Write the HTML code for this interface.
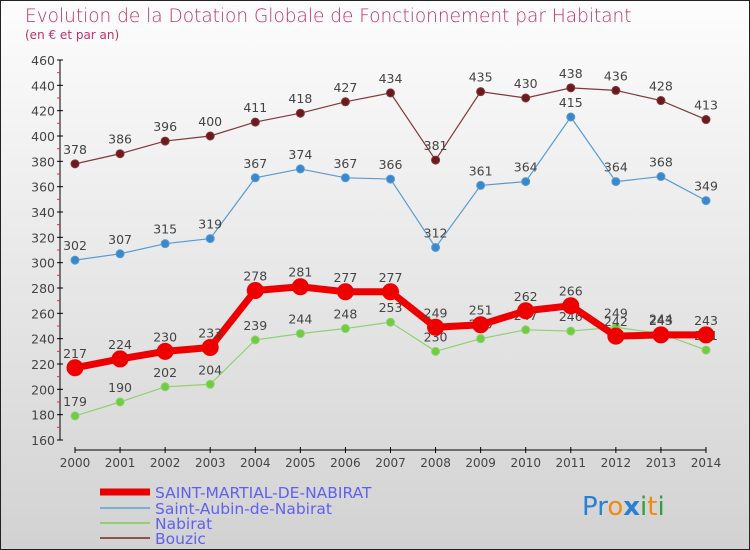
<!DOCTYPE html>
<html><head><meta charset="utf-8"><style>
body{margin:0;}
#c{width:750px;height:550px;position:relative;overflow:hidden;font-family:"DejaVu Sans","Liberation Sans",sans-serif;}
</style></head><body>
<div id="c">
<svg id="s" width="750" height="550" xmlns="http://www.w3.org/2000/svg">
<defs><linearGradient id="bg" x1="0" y1="0" x2="0" y2="1"><stop offset="0" stop-color="#fdfdfd"/><stop offset="1" stop-color="#d2d2d2"/></linearGradient></defs>
<rect x="0.5" y="0.5" width="749" height="549" fill="url(#bg)" stroke="#222"/>
<text x="25" y="22" font-size="18.5" fill="#c0306a" font-weight="200">Evolution de la Dotation Globale de Fonctionnement par Habitant</text>
<text x="25" y="39" font-size="12" fill="#c0306a">(en € et par an)</text>
<g id="axes"></g><g id="series"></g>
<g>
<line x1="100" y1="492" x2="150" y2="492" stroke="#e80000" stroke-width="7"/>
<text x="155" y="498" font-size="15.5" fill="#6060ee">SAINT-MARTIAL-DE-NABIRAT</text>
<line x1="100" y1="508" x2="150" y2="508" stroke="#7ab0d0" stroke-width="2"/>
<text x="155" y="514" font-size="15.5" fill="#6060ee">Saint-Aubin-de-Nabirat</text>
<line x1="100" y1="523" x2="150" y2="523" stroke="#90d070" stroke-width="2"/>
<text x="155" y="529" font-size="15.5" fill="#6060ee">Nabirat</text>
<line x1="100" y1="538" x2="150" y2="538" stroke="#905050" stroke-width="2"/>
<text x="155" y="544" font-size="15.5" fill="#6060ee">Bouzic</text>
</g>
<g font-size="26" font-family="DejaVu Sans,sans-serif">
<text x="582" y="515"><tspan fill="#2a80d0">Pr</tspan><tspan fill="#f08a10">o</tspan><tspan fill="#2a80d0" font-weight="bold">x</tspan><tspan fill="#30a040">i</tspan><tspan fill="#f08a10">t</tspan><tspan fill="#30a040">i</tspan></text>
</g>
</svg>
</div>
<script>
const years=[2000,2001,2002,2003,2004,2005,2006,2007,2008,2009,2010,2011,2012,2013,2014];
const yTicks=[160,180,200,220,240,260,280,300,320,340,360,380,400,420,440,460];
const saintMartial=[217,224,230,233,278,281,277,277,249,251,262,266,242,243,243];
const saintAubin=[302,307,315,319,367,374,367,366,312,361,364,415,364,368,349];
const nabirat=[179,190,202,204,239,244,248,253,230,240,247,246,249,244,231];
const bouzic=[378,386,396,400,411,418,427,434,381,435,430,438,436,428,413];
const NS="http://www.w3.org/2000/svg";
const x=i=>75+i*(706-75)/(years.length-1);
const y=v=>440-(v-160)*380/300;
function mk(t,a,p){const e=document.createElementNS(NS,t);for(const k in a)e.setAttribute(k,a[k]);p.appendChild(e);return e;}
const ax=document.getElementById('axes');
const yl=mk('line',{x1:60,y1:60,x2:60,y2:440,stroke:'#000'},ax);


yTicks.forEach(v=>{
 mk('line',{x1:57,y1:y(v),x2:63,y2:y(v),stroke:'#000'},ax);
 if(v<460)mk('line',{x1:57,y1:y(v+10),x2:60,y2:y(v+10),stroke:'#e03030'},ax);
 const t=mk('text',{x:55,y:y(v)+5,'text-anchor':'end','font-size':12.5,fill:'#444'},ax);t.textContent=v;
 
 
});
const xl=mk('line',{x1:75,y1:450,x2:706,y2:450,stroke:'#000'},ax);


years.forEach((yr,i)=>{
 mk('line',{x1:x(i),y1:447,x2:x(i),y2:453,stroke:'#000'},ax);
 const t=mk('text',{x:x(i),y:467,'text-anchor':'middle','font-size':12,fill:'#444'},ax);t.textContent=yr;
 
 
});
const sg=document.getElementById('series');
function series(data,name,col,dot,w,r){
 const g=mk('g',{},sg);
 
 
 mk('polyline',{points:data.map((v,i)=>x(i)+','+y(v)).join(' '),fill:'none',stroke:col,'stroke-width':w},g);
 data.forEach((v,i)=>{
  const c=mk('circle',{cx:x(i),cy:y(v),r:r,fill:dot,stroke:col,'stroke-width':1},g);
  
  
  const t=mk('text',{x:x(i),y:y(v)-10,'text-anchor':'middle','font-size':12.5,fill:'#444'},g);t.textContent=v;
  
  
 });
}
series(bouzic,'bouzic','#803838','#6a1a20',1.2,4);
series(saintAubin,'saint-aubin','#5a9ad0','#3a88cc',1.2,4);
series(nabirat,'nabirat','#90d070','#70cc40',1.2,4);
series(saintMartial,'saint-martial','#ee0000','#ee0000',7,8);
</script>
</body></html>
